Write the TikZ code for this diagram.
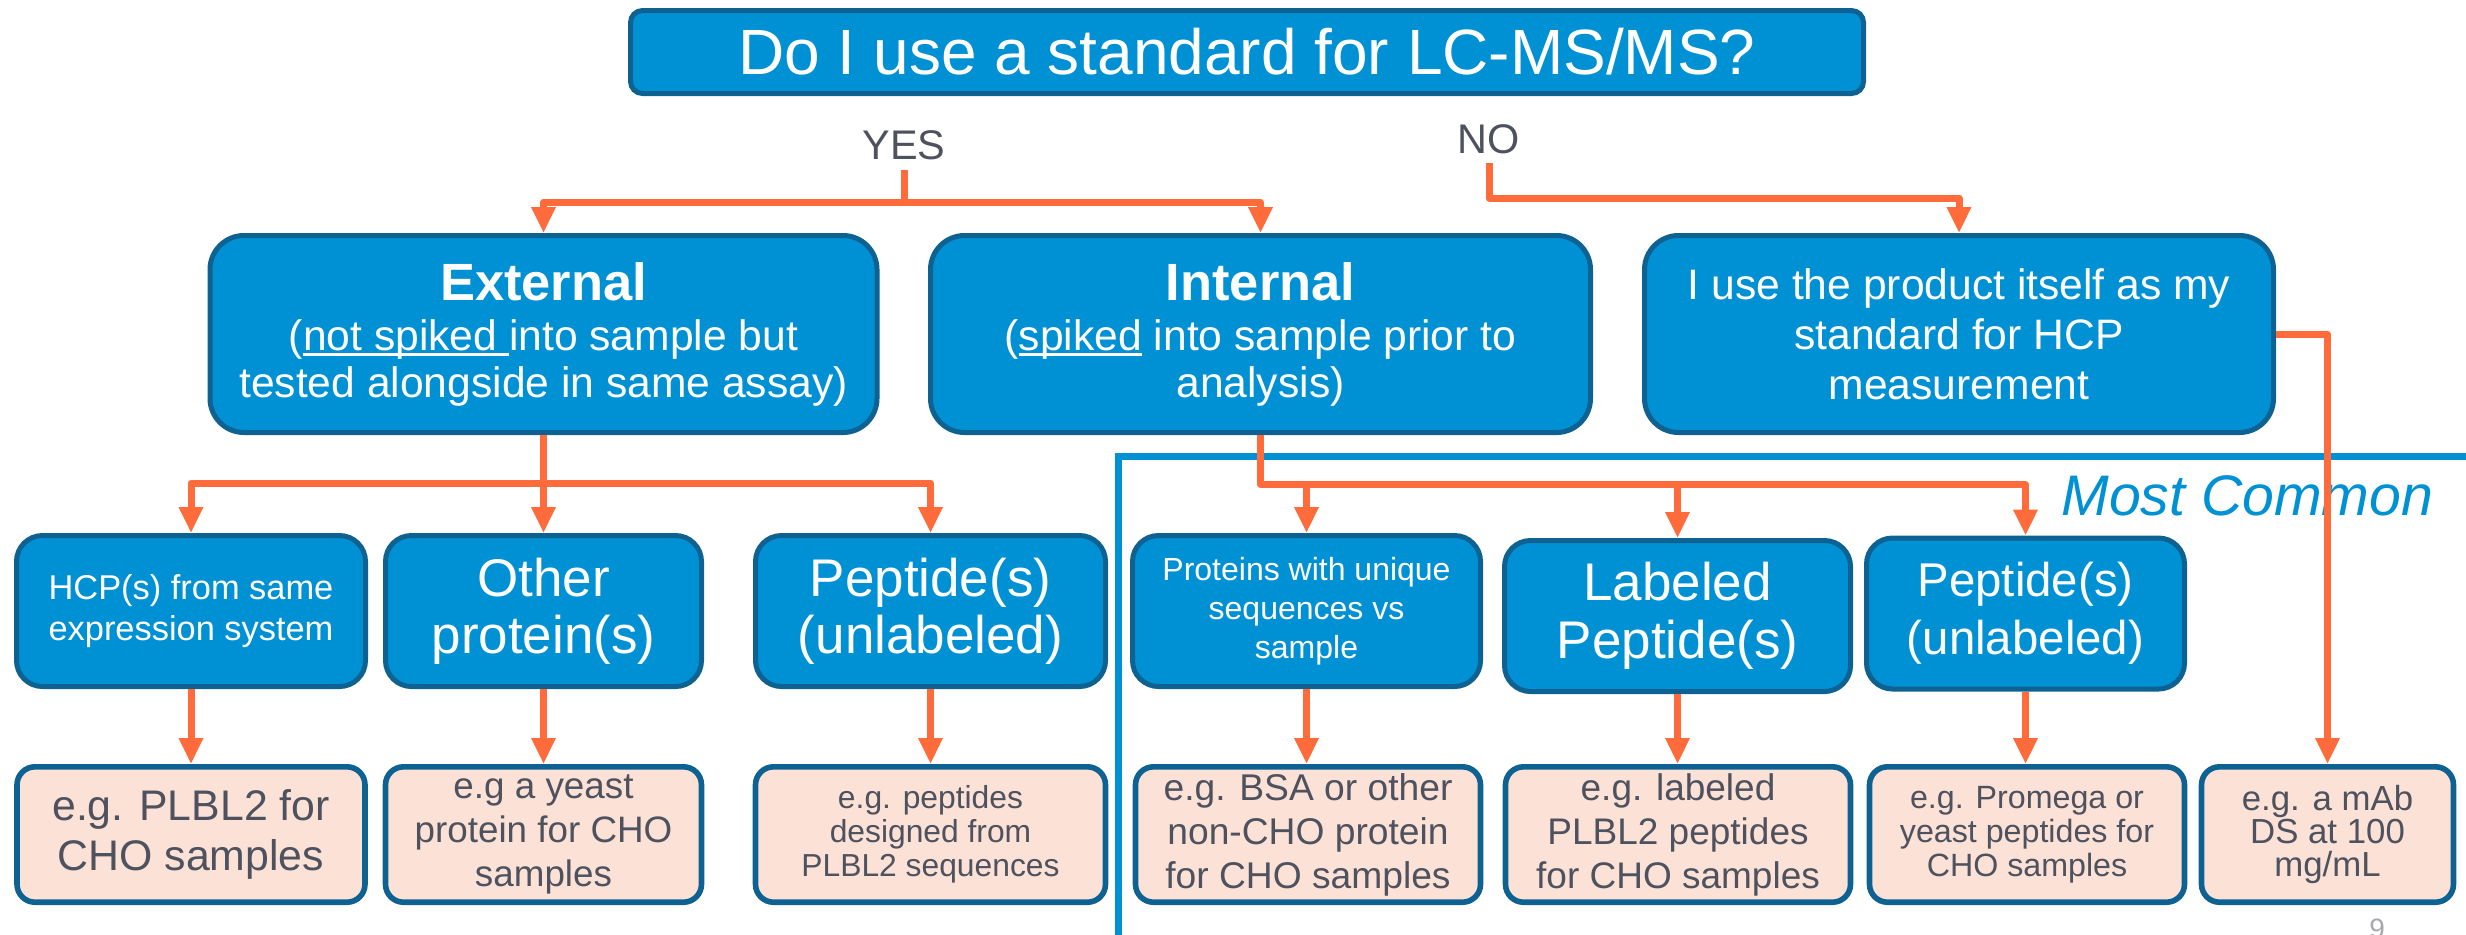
\documentclass[tikz,border=0pt]{standalone}
\usepackage{fontspec}
\setmainfont{Liberation Sans}
\usetikzlibrary{arrows.meta}
\definecolor{boxblue}{RGB}{0,145,213}
\definecolor{borderblue}{RGB}{14,98,146}
\definecolor{boxpink}{RGB}{252,225,215}
\definecolor{arrorange}{RGB}{255,107,58}
\definecolor{graytext}{RGB}{77,82,94}
\definecolor{pagegray}{RGB}{166,168,172}
\newcommand{\myul}[1]{\leavevmode\setbox0=\hbox{#1}\rlap{\rule[-0.13em]{\wd0}{0.07em}}\box0\relax}
\newcommand{\fs}[2]{\fontsize{#1pt}{#2pt}\selectfont}
\begin{document}
\begin{tikzpicture}[x=0.5pt,y=-0.5pt,
  bluebox/.style={draw=borderblue, fill=boxblue, line width=2.5pt, text=white, align=center, inner sep=0pt},
  pinkbox/.style={draw=borderblue, fill=boxpink, line width=2.8pt, text=graytext, align=center, inner sep=0pt, rounded corners=9pt, minimum height=67.7pt},
  rowone/.style={bluebox, rounded corners=17pt, minimum height=98.5pt},
  rowtwo/.style={bluebox, rounded corners=13pt, minimum height=75.5pt},
  conn/.style={draw=arrorange, line width=3.5pt, line join=round},
  arr/.style={conn, -{Triangle[width=11.5pt,length=13pt]}},
  lbl/.style={text=graytext, inner sep=0pt, font=\fs{20.7}{24}},
  frame/.style={draw=boxblue, line width=3.5pt}
]
\useasboundingbox (0,0) rectangle (2466,934);

% Most Common frame
\draw[frame] (1118,960) -- (1118,456) -- (2500,456);
\node[anchor=base west, text=boxblue, inner sep=0pt, font=\fs{28.6}{30}\itshape] (mc) at (2061,515) {Most Common};

% Title
\node[bluebox, rounded corners=6pt, minimum width=616.5pt, minimum height=41.5pt, font=\fs{32}{36}] (title) at (1247,52) {Do I use a standard for LC-MS/MS?};

% YES / NO
\node[lbl, anchor=base] (yes) at (904,159) {YES};
\node[lbl, anchor=base] (no) at (1489,153) {NO};

% Row 1
\node[rowone, minimum width=333.5pt, font=\fs{21.3}{23.5}] (ext) at (543.5,334) {{\fs{26.2}{26.5}\bfseries External}\\[1.5pt](\myul{not spiked }into sample but\\tested alongside in same assay)};
\node[rowone, minimum width=330pt, font=\fs{21.3}{23.5}] (int) at (1260.5,334) {{\fs{26.2}{26.5}\bfseries Internal}\\[1.5pt](\myul{spiked} into sample prior to\\analysis)};
\node[rowone, minimum width=314.5pt, font=\fs{21.3}{25}] (prod) at (1959,334) {I use the product itself as my\\standard for HCP\\measurement};

% Row 2
\node[rowtwo, minimum width=174.5pt, font=\fs{17.2}{20.5}] (hcp) at (191,611) {HCP(s) from same\\expression system};
\node[rowtwo, minimum width=158pt, font=\fs{26.5}{28.5}] (other) at (543.5,611) {Other\\protein(s)};
\node[rowtwo, minimum width=175pt, font=\fs{26.5}{28.5}] (pepu) at (930.5,611) {Peptide(s)\\(unlabeled)};
\node[rowtwo, minimum width=174pt, font=\fs{16}{19.5}] (prot) at (1306.5,611) {Proteins with unique\\sequences vs\\sample};
\node[rowtwo, minimum width=173pt, font=\fs{26.5}{29}] (lab) at (1677.5,616) {Labeled\\Peptide(s)};
\node[rowtwo, minimum width=159pt, font=\fs{23.7}{29}] (pepi) at (2025.5,613.5) {Peptide(s)\\(unlabeled)};

% Row 3
\node[pinkbox, minimum width=174pt, font=\fs{21.4}{25}] (e1) at (191,834.5) {e.g. PLBL2 for\\CHO samples};
\node[pinkbox, minimum width=158pt, font=\fs{18.4}{22}] (e2) at (543.5,834.5) {e.g a yeast\\protein for CHO\\samples};
\node[pinkbox, minimum width=175pt, font=\fs{15.9}{17}] (e3) at (930.5,834.5) {e.g. peptides\\designed from\\PLBL2 sequences};
\node[pinkbox, minimum width=172.5pt, font=\fs{18.6}{22}] (e4) at (1308,834.5) {e.g. BSA or other\\non-CHO protein\\for CHO samples};
\node[pinkbox, minimum width=172.5pt, font=\fs{18.5}{22}] (e5) at (1678,834.5) {e.g. labeled\\PLBL2 peptides\\for CHO samples};
\node[pinkbox, minimum width=157.5pt, font=\fs{16.1}{17}] (e6) at (2027,834.5) {e.g. Promega or\\yeast peptides for\\CHO samples};
\node[pinkbox, minimum width=126pt, font=\fs{17.4}{16.5}] (e7) at (2327.5,834.5) {e.g. a mAb\\DS at 100\\mg/mL};

% page number
\node[anchor=base, text=pagegray, inner sep=0pt, font=\fs{14}{16}] (pg) at (2377,938) {9};

% Connectors
\coordinate (ys) at (904,170);
\coordinate (yj) at (904,202);
\draw[conn] (ys) -- (yj);
\draw[arr] (yj) -| (ext.north);
\draw[arr] (yj) -| (int.north);

\coordinate (ns) at (1489,163);
\coordinate (nj) at (1489,198);
\draw[arr] (ns) -- (nj) -| (prod.north);

\coordinate (ej) at (543.5,483);
\draw[conn] (ext.south) -- (ej);
\draw[arr] (ej) -| (hcp.north);
\draw[arr] (ej) -| (pepu.north);
\draw[arr] (ej) -- (other.north);

\coordinate (ij) at (1260.5,484);
\draw[arr] (int.south) -- (ij) -| (pepi.north);
\draw[arr] (prot.north |- ij) -- (prot.north);
\draw[arr] (lab.north |- ij) -- (lab.north);

\draw[arr] (prod.east) -| (e7.north);

\draw[arr] (hcp.south) -- (hcp.south |- e1.north);
\draw[arr] (other.south) -- (other.south |- e2.north);
\draw[arr] (pepu.south) -- (pepu.south |- e3.north);
\draw[arr] (prot.south) -- (prot.south |- e4.north);
\draw[arr] (lab.south) -- (lab.south |- e5.north);
\draw[arr] (pepi.south) -- (pepi.south |- e6.north);
\end{tikzpicture}
\end{document}
